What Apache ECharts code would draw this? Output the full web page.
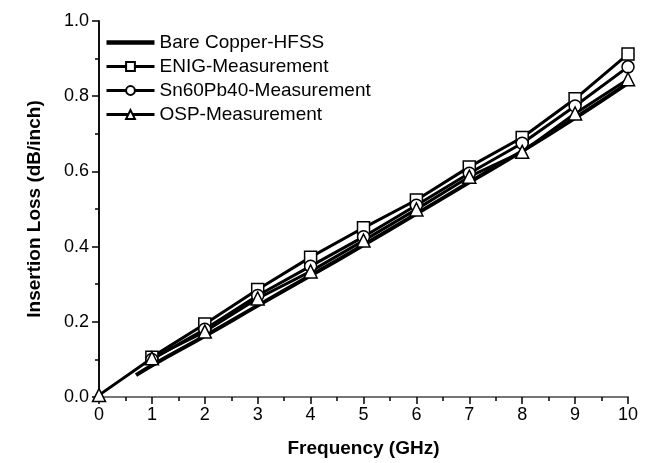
<!DOCTYPE html>
<html>
<head>
<meta charset="utf-8">
<script src="https://cdn.jsdelivr.net/npm/echarts@6/dist/echarts.min.js"></script>
<style>
    html, body { margin: 0; padding: 0; background: #fff; }
    #chart { width: 655px; height: 463px; }
</style>
</head>
<body>
<div id="chart"></div>
<script>
// values
const bareFreq = [0.7, 1, 2, 3, 4, 5, 6, 7, 8, 9, 10];
const bareLoss = [0.058, 0.084, 0.162, 0.243, 0.323, 0.404, 0.487, 0.571, 0.654, 0.742, 0.835];
const enigFreq = [1, 2, 3, 4, 5, 6, 7, 8, 9, 10];
const enigLoss = [0.106, 0.194, 0.286, 0.372, 0.45, 0.524, 0.612, 0.69, 0.793, 0.912];
const snFreq = [1, 2, 3, 4, 5, 6, 7, 8, 9, 10];
const snLoss = [0.1, 0.18, 0.27, 0.348, 0.426, 0.51, 0.595, 0.675, 0.774, 0.878];
const ospFreq = [0, 1, 2, 3, 4, 5, 6, 7, 8, 9, 10];
const ospLoss = [0.005, 0.103, 0.174, 0.262, 0.334, 0.416, 0.499, 0.586, 0.652, 0.754, 0.845];
const names = ["Bare Copper-HFSS", "ENIG-Measurement", "Sn60Pb40-Measurement", "OSP-Measurement"];

const font = "Liberation Sans, Arial, sans-serif";
const pairs = (xs, ys) => xs.map((x, i) => [x, ys[i]]);

function measured(name, symbol, size, xs, ys) {
    return {
        name: name,
        type: "line",
        data: pairs(xs, ys),
        symbol: symbol,
        symbolSize: size,
        showAllSymbol: true,
        lineStyle: { color: "#000", width: 3 },
        itemStyle: { color: "#fff", borderColor: "#000", borderWidth: 1.5 },
        emphasis: { disabled: true },
        z: 3,
    };
}

const chart = echarts.init(document.getElementById("chart"));
chart.setOption({
    animation: false,
    textStyle: { fontFamily: font },
    grid: { left: 99, right: 27, top: 21, bottom: 66 },
    legend: {
        orient: "vertical",
        left: 100,
        top: 28,
        itemWidth: 48,
        itemHeight: 11,
        itemGap: 5,
        lineStyle: { width: 3, color: "#000" },
        textStyle: { fontSize: 19, color: "#000", fontFamily: font },
        data: [
            { name: names[0], icon: "path://M0,0 H100 V9 H0 Z" },
            names[1],
            names[2],
            names[3],
        ],
    },
    xAxis: [
        {
            type: "value",
            min: 0,
            max: 10,
            interval: 1,
            name: "Frequency (GHz)",
            nameLocation: "middle",
            nameGap: 42,
            nameTextStyle: { fontSize: 19, fontWeight: "bold", color: "#000" },
            axisLine: { lineStyle: { color: "#000", width: 1.5 } },
            axisTick: { length: 7, lineStyle: { color: "#000", width: 1.5 } },
            minorTick: { show: true, splitNumber: 2, length: 4, lineStyle: { color: "#000", width: 1.5 } },
            axisLabel: { fontSize: 18, color: "#000", margin: 9 },
            splitLine: { show: false },
        },
        {
            type: "value",
            position: "top",
            min: 0,
            max: 10,
            axisLine: { lineStyle: { color: "#888", width: 1.5 } },
            axisTick: { show: false },
            axisLabel: { show: false },
            splitLine: { show: false },
        },
    ],
    yAxis: [
        {
            type: "value",
            min: 0,
            max: 1,
            interval: 0.2,
            name: "Insertion Loss (dB/inch)",
            nameLocation: "middle",
            nameGap: 55,
            nameTextStyle: { fontSize: 19, fontWeight: "bold", color: "#000" },
            axisLine: { show: true, lineStyle: { color: "#000", width: 1.5 } },
            axisTick: { show: true, length: 7, lineStyle: { color: "#000", width: 1.5 } },
            minorTick: { show: true, splitNumber: 2, length: 4, lineStyle: { color: "#000", width: 1.5 } },
            axisLabel: { fontSize: 18, color: "#000", margin: 10, formatter: (v) => v.toFixed(1) },
            splitLine: { show: false },
        },
        {
            type: "value",
            position: "right",
            min: 0,
            max: 1,
            axisLine: { show: true, lineStyle: { color: "#000", width: 1.5 } },
            axisTick: { show: false },
            axisLabel: { show: false },
            splitLine: { show: false },
        },
    ],
    series: [
        {
            name: names[0],
            type: "line",
            data: pairs(bareFreq, bareLoss),
            smooth: true,
            symbol: "none",
            lineStyle: { color: "#000", width: 4 },
            itemStyle: { color: "#000" },
            emphasis: { disabled: true },
            z: 2,
        },
        measured(names[1], "rect", 12, enigFreq, enigLoss),
        measured(names[2], "circle", 12, snFreq, snLoss),
        measured(names[3], "triangle", 13, ospFreq, ospLoss),
    ],
});
</script>
</body>
</html>
